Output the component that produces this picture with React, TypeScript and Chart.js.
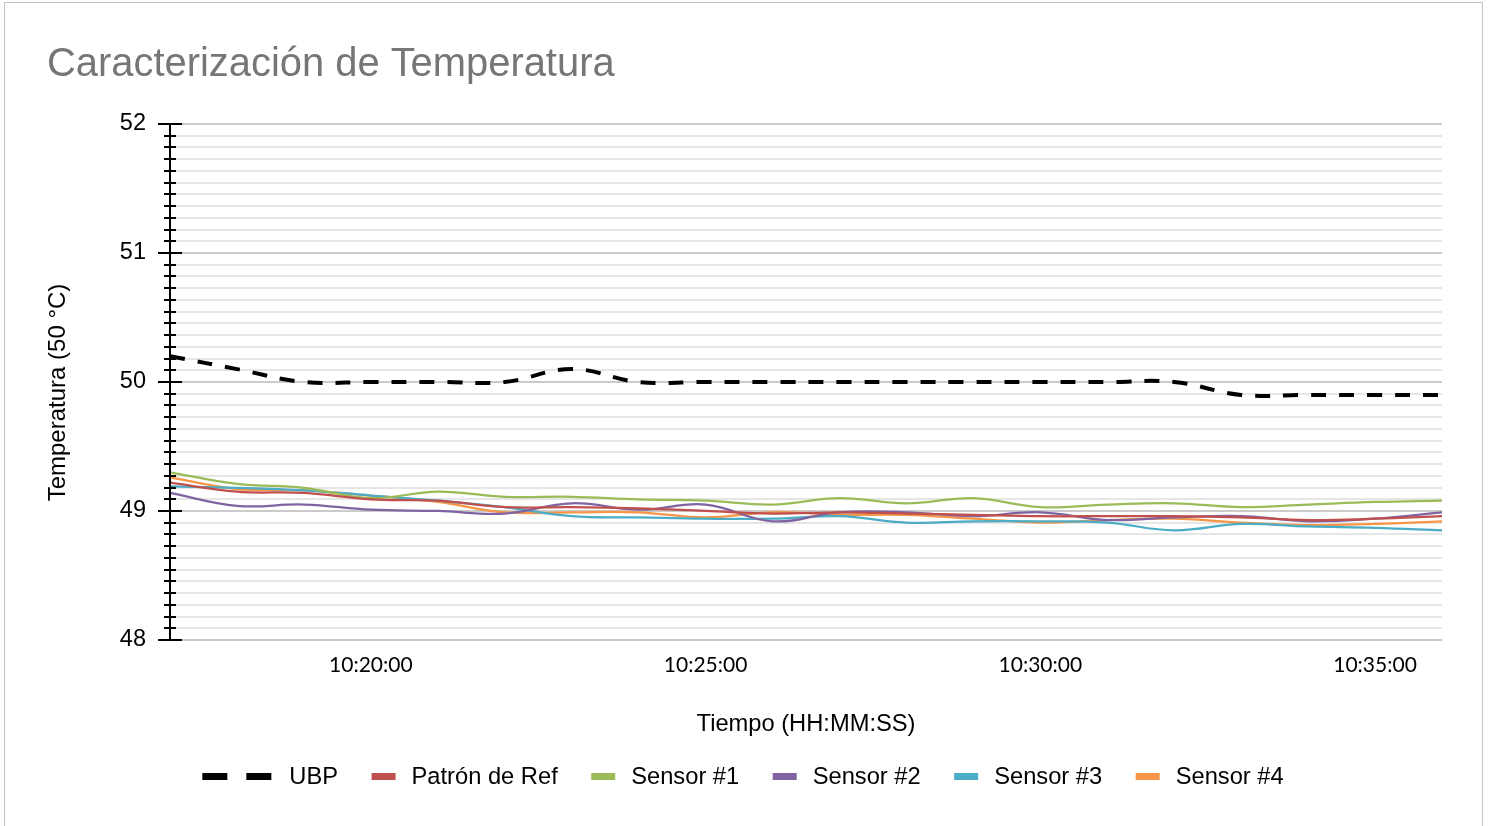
import React, { useEffect, useRef } from "react";
import { Chart, registerables } from "chart.js";

Chart.register(...registerables);

// ---------- data ----------
const times = [
  "10:17:00", "10:18:00", "10:19:00", "10:20:00", "10:21:00",
  "10:22:00", "10:23:00", "10:24:00", "10:25:00", "10:26:00",
  "10:27:00", "10:28:00", "10:29:00", "10:30:00", "10:31:00",
  "10:32:00", "10:33:00", "10:34:00", "10:35:00", "10:36:00",
];
const shownTimeLabels = ["10:20:00", "10:25:00", "10:30:00", "10:35:00"];

const ubp = [50.2, 50.1, 50.0, 50.0, 50.0, 50.0, 50.1, 50.0, 50.0, 50.0, 50.0, 50.0, 50.0, 50.0, 50.0, 50.0, 49.9, 49.9, 49.9, 49.9];
const patronRef = [49.22, 49.15, 49.14, 49.09, 49.08, 49.03, 49.03, 49.02, 49.0, 48.98, 48.99, 48.98, 48.97, 48.96, 48.96, 48.96, 48.95, 48.93, 48.94, 48.96];
const sensor1 = [49.3, 49.21, 49.18, 49.1, 49.15, 49.11, 49.11, 49.09, 49.08, 49.05, 49.1, 49.06, 49.1, 49.03, 49.05, 49.06, 49.03, 49.05, 49.07, 49.08];
const sensor2 = [49.14, 49.04, 49.05, 49.01, 49.0, 48.98, 49.06, 49.01, 49.05, 48.92, 48.99, 48.99, 48.96, 48.99, 48.93, 48.95, 48.96, 48.92, 48.94, 48.99];
const sensor3 = [49.19, 49.18, 49.16, 49.12, 49.08, 49.03, 48.96, 48.95, 48.94, 48.94, 48.96, 48.91, 48.92, 48.92, 48.91, 48.85, 48.9, 48.88, 48.87, 48.85];
const sensor4 = [49.26, 49.17, 49.16, 49.12, 49.07, 48.99, 48.99, 48.99, 48.95, 48.99, 48.97, 48.97, 48.94, 48.91, 48.93, 48.94, 48.91, 48.89, 48.9, 48.92];

const yMajorTicks = [48, 49, 50, 51, 52];
const yMinorPerMajor = 11;

const titleText = "Caracterización de Temperatura";
const yTitleText = "Temperatura (50 °C)";
const xTitleText = "Tiempo (HH:MM:SS)";

// ---------- styles ----------
const FF = "'Liberation Sans', Arial, sans-serif";
const TICK_FF = "Lato, 'Open Sans', sans-serif";

const isMajor = (v: number) => Math.abs(v - Math.round(v)) < 1e-6;

const yTickValues: number[] = [];
for (let i = 0; i < yMajorTicks.length - 1; i++) {
  const a = yMajorTicks[i];
  const b = yMajorTicks[i + 1];
  for (let k = 0; k < yMinorPerMajor; k++) yTickValues.push(a + ((b - a) * k) / yMinorPerMajor);
}
yTickValues.push(yMajorTicks[yMajorTicks.length - 1]);

const axisPlugin = {
  id: "crossAxis",
  afterDatasetsDraw(chart: any) {
    const { ctx, chartArea, scales } = chart;
    const y = scales.y;
    const x0 = chartArea.left;
    ctx.save();
    ctx.strokeStyle = "#000";
    ctx.lineWidth = 2;
    ctx.beginPath();
    ctx.moveTo(x0, chartArea.top - 1);
    ctx.lineTo(x0, chartArea.bottom + 1);
    ctx.stroke();
    y.ticks.forEach((t: any) => {
      const py = Math.round(y.getPixelForValue(t.value));
      const half = isMajor(t.value) ? 12 : 6;
      ctx.beginPath();
      ctx.moveTo(x0 - half, py);
      ctx.lineTo(x0 + half, py);
      ctx.stroke();
    });
    ctx.restore();
  },
};

const legendPlugin = {
  id: "customLegend",
  afterDraw(chart: any) {
    const ctx = chart.ctx;
    ctx.save();
    ctx.font = `23.7px ${FF}`;
    ctx.textBaseline = "middle";
    ctx.textAlign = "left";
    const items = chart.data.datasets.map((ds: any) => ({
      text: ds.label,
      color: ds.borderColor,
      dashed: Array.isArray(ds.borderDash) && ds.borderDash.length > 0,
    }));
    const widths = items.map(
      (it: any) => (it.dashed ? 69 + 18 : 24 + 16) + ctx.measureText(it.text).width
    );
    const gap = 33.5;
    const total = widths.reduce((a: number, b: number) => a + b, 0) + gap * (items.length - 1);
    let x = 743 - total / 2;
    const yc = 777;
    items.forEach((it: any) => {
      ctx.fillStyle = it.color;
      if (it.dashed) {
        ctx.fillRect(x, yc - 4, 25, 7);
        ctx.fillRect(x + 44, yc - 4, 25, 7);
        x += 69 + 18;
      } else {
        ctx.fillRect(x, yc - 4, 24, 7);
        x += 24 + 16;
      }
      ctx.fillStyle = "#000";
      ctx.fillText(it.text, x, yc);
      x += ctx.measureText(it.text).width + gap;
    });
    // y axis title
    ctx.translate(58.7, 392.5);
    ctx.rotate(-Math.PI / 2);
    ctx.font = `24px ${FF}`;
    ctx.textAlign = "center";
    ctx.fillStyle = "#000";
    ctx.fillText(yTitleText, 0, 0);
    ctx.restore();
  },
};

export default function App() {
  const ref = useRef<HTMLCanvasElement | null>(null);

  useEffect(() => {
    if (!ref.current) return;
    Chart.defaults.font.family = FF;
    const mk = (label: string, data: number[], color: string, extra: any = {}) => ({
      label,
      data,
      borderColor: color,
      backgroundColor: color,
      borderWidth: 2.25,
      pointRadius: 0,
      tension: 0.4,
      fill: false,
      ...extra,
    });
    const chart = new Chart(ref.current, {
      type: "line",
      data: {
        labels: times,
        datasets: [
          mk("UBP", ubp, "#000000", { borderWidth: 4, borderDash: [15, 13] }),
          mk("Patrón de Ref", patronRef, "#C0504D"),
          mk("Sensor #1", sensor1, "#9BBB59"),
          mk("Sensor #2", sensor2, "#8064A2"),
          mk("Sensor #3", sensor3, "#4BACC6"),
          mk("Sensor #4", sensor4, "#F79646"),
        ],
      },
      options: {
        animation: false,
        responsive: false,
        devicePixelRatio: 1,
        layout: { padding: { left: 47, right: 51, top: 0, bottom: 87 } },
        plugins: {
          legend: { display: false },
          tooltip: { enabled: false },
          title: {
            display: true,
            text: titleText,
            align: "start",
            color: "#767676",
            font: { family: FF, size: 39.9, weight: "normal" },
            padding: { top: 40.9, bottom: 35.2 },
          },
        },
        scales: {
          x: {
            type: "category",
            offset: false,
            grid: { display: false },
            border: { display: false },
            afterFit: (s: any) => {
              s.height = 99;
            },
            ticks: {
              autoSkip: false,
              maxRotation: 0,
              minRotation: 0,
              padding: 5,
              color: "#000",
              font: { family: TICK_FF, size: 21 },
              callback: function (this: any, value: any) {
                const lab = this.getLabelForValue(value);
                return shownTimeLabels.includes(lab) ? lab : "";
              },
            },
            title: {
              display: true,
              text: xTitleText,
              color: "#000",
              font: { family: FF, size: 23.7 },
              padding: { top: 0, bottom: 0 },
            },
          },
          y: {
            type: "linear",
            min: yMajorTicks[0],
            max: yMajorTicks[yMajorTicks.length - 1],
            afterBuildTicks: (s: any) => {
              s.ticks = yTickValues.map((v) => ({ value: v }));
            },
            afterFit: (s: any) => {
              s.width = 123;
            },
            border: { display: false },
            grid: {
              drawTicks: false,
              lineWidth: 2,
              color: (c: any) => (c.tick && isMajor(c.tick.value) ? "#cbcbcb" : "#e6e6e6"),
            },
            ticks: {
              autoSkip: false,
              padding: 24,
              color: "#000",
              font: { family: FF, size: 23.5 },
              callback: (v: any) => (isMajor(Number(v)) ? String(Math.round(Number(v))) : ""),
            },
          },
        },
      },
      plugins: [axisPlugin, legendPlugin],
    } as any);
    return () => chart.destroy();
  }, []);

  return (
    <div style={{ position: "fixed", left: 0, top: 0, width: 1493, height: 826, background: "#fff", overflow: "hidden" }}>
      <div
        style={{
          position: "absolute",
          left: 4,
          top: 2,
          width: 1479,
          height: 900,
          border: "1px solid #c3c3c3",
          boxSizing: "border-box",
        }}
      />
      <canvas ref={ref} width={1493} height={826} style={{ position: "absolute", left: 0, top: 0, display: "block" }} />
    </div>
  );
}
